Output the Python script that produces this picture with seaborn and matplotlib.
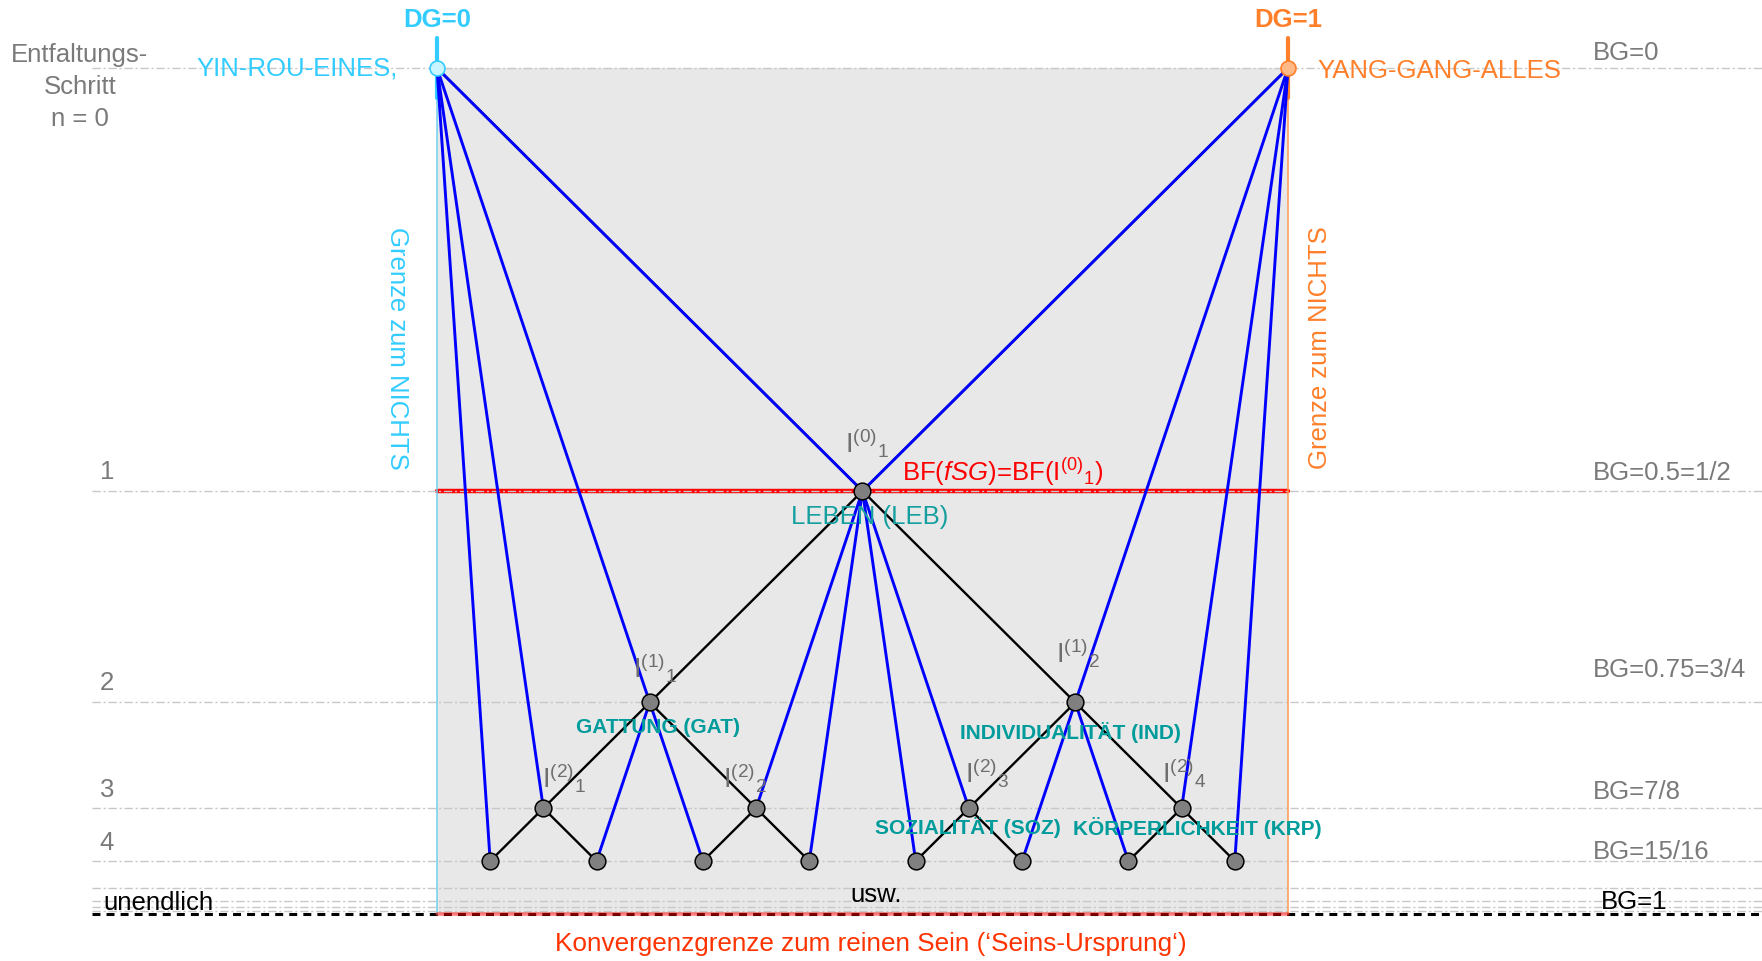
import numpy as np
import pandas as pd
import seaborn as sns
import matplotlib.pyplot as plt

# Knoten: DG (horizontal) und BG (vertikal)
node_names = ['YIN', 'YANG', 'I0_1', 'I1_1', 'I1_2', 'I2_1', 'I2_2', 'I2_3', 'I2_4',
              'L4_1', 'L4_2', 'L4_3', 'L4_4', 'L4_5', 'L4_6', 'L4_7', 'L4_8']
node_dg = [0.0, 1.0, 0.5, 0.25, 0.75, 0.125, 0.375, 0.625, 0.875,
           0.0625, 0.1875, 0.3125, 0.4375, 0.5625, 0.6875, 0.8125, 0.9375]
node_bg = [0.0, 0.0, 0.5, 0.75, 0.75, 0.875, 0.875, 0.875, 0.875,
           0.9375, 0.9375, 0.9375, 0.9375, 0.9375, 0.9375, 0.9375, 0.9375]

# Baum (schwarz) und Verbindungen (blau)
tree_edges = [('YIN', 'I0_1'), ('YANG', 'I0_1'),
              ('I0_1', 'I1_1'), ('I0_1', 'I1_2'),
              ('I1_1', 'I2_1'), ('I1_1', 'I2_2'), ('I1_2', 'I2_3'), ('I1_2', 'I2_4'),
              ('I2_1', 'L4_1'), ('I2_1', 'L4_2'), ('I2_2', 'L4_3'), ('I2_2', 'L4_4'),
              ('I2_3', 'L4_5'), ('I2_3', 'L4_6'), ('I2_4', 'L4_7'), ('I2_4', 'L4_8')]
blue_edges = [('YIN', 'L4_1'), ('YIN', 'I2_1'), ('YIN', 'I1_1'), ('YIN', 'I0_1'),
              ('YANG', 'L4_8'), ('YANG', 'I2_4'), ('YANG', 'I1_2'), ('YANG', 'I0_1'),
              ('I0_1', 'I2_2'), ('I0_1', 'L4_4'), ('I0_1', 'L4_5'), ('I0_1', 'I2_3'),
              ('I1_1', 'L4_2'), ('I1_1', 'L4_3'), ('I1_2', 'L4_6'), ('I1_2', 'L4_7')]

grid_bg = [0, 0.5, 0.75, 0.875, 0.9375, 0.96875, 0.984375, 0.9921875, 0.99609375]
step_labels = ['1', '2', '3', '4']
bg_labels = ['BG=0', 'BG=0.5=1/2', 'BG=0.75=3/4', 'BG=7/8', 'BG=15/16', 'BG=1']
i_labels = ['$I^{(0)}{}_1$', '$I^{(1)}{}_1$', '$I^{(1)}{}_2$',
            '$I^{(2)}{}_1$', '$I^{(2)}{}_2$', '$I^{(2)}{}_3$', '$I^{(2)}{}_4$']

sns.set_style('white')
plt.rcParams['font.family'] = ['Liberation Sans', 'DejaVu Sans']
plt.rcParams['mathtext.fontset'] = 'custom'
plt.rcParams['mathtext.rm'] = 'Liberation Sans'
plt.rcParams['mathtext.it'] = 'Liberation Sans:italic'
plt.rcParams['mathtext.default'] = 'regular'

nodes = pd.DataFrame({'name': node_names, 'DG': node_dg, 'BG': node_bg}).set_index('name')


def edge_frame(edges):
    rows = []
    for k, (a, b) in enumerate(edges):
        rows.append({'seg': k, 'DG': nodes.loc[a, 'DG'], 'BG': nodes.loc[a, 'BG']})
        rows.append({'seg': k, 'DG': nodes.loc[b, 'DG'], 'BG': nodes.loc[b, 'BG']})
    return pd.DataFrame(rows)


fig = plt.figure(figsize=(17.62, 9.61), dpi=100)
ax = fig.add_axes([0, 0, 1, 1])

FS = 18.5
CYAN = '#33ccff'
ORANGE = '#ff7f2a'
GRAY = '#7a7a7a'
TEAL = '#009b9b'
XL = -0.405

# Hintergrund und Grenzen
ax.fill_between([0, 1], 0, 1, color='#e8e8e8', zorder=0, lw=0)
ax.plot([0, 1], [0.5, 0.5], color='red', lw=3.2, zorder=1)
for g in grid_bg:
    ax.plot([XL, 1.6], [g, g], color='#c8c8c8', lw=1, ls=(0, (6, 2, 1.5, 2)), zorder=2)
ax.plot([XL, 1.6], [1, 1], color='black', lw=2.2, ls=(0, (2.6, 2)), zorder=2)
ax.plot([0, 1], [1, 1], color='red', lw=2.6, alpha=0.5, zorder=3)
ax.plot([0, 0], [0, 1], color='#6fd0f0', lw=1.1, zorder=2)
ax.plot([1, 1], [0, 1], color='#ff9a50', lw=1.1, zorder=2)
ax.plot([0, 0], [-0.0355, 0.0355], color=CYAN, lw=3, zorder=3)
ax.plot([1, 1], [-0.0355, 0.0355], color=ORANGE, lw=3, zorder=3)

# Linien
sns.lineplot(data=edge_frame(tree_edges), x='DG', y='BG', units='seg', estimator=None,
             sort=False, color='black', lw=1.7, ax=ax, zorder=4)
sns.lineplot(data=edge_frame(blue_edges), x='DG', y='BG', units='seg', estimator=None,
             sort=False, color='#0000ff', lw=2.1, ax=ax, zorder=5)

# Knoten
inner = nodes.drop(['YIN', 'YANG']).reset_index()
sns.scatterplot(data=inner, x='DG', y='BG', s=145, color='#808080', edgecolor='black',
                linewidth=1.1, ax=ax, zorder=6)
ax.scatter([nodes.loc['YIN', 'DG']], [nodes.loc['YIN', 'BG']], s=115, color='#c8f4ff',
           edgecolor=CYAN, lw=1.2, zorder=6)
ax.scatter([nodes.loc['YANG', 'DG']], [nodes.loc['YANG', 'BG']], s=115, color='#ffb888',
           edgecolor=ORANGE, lw=1.2, zorder=6)

# Texte oben
ax.text(0, -0.057, 'DG=0', color=CYAN, fontsize=FS, fontweight='bold', ha='center', va='center')
ax.text(1, -0.057, 'DG=1', color=ORANGE, fontsize=FS, fontweight='bold', ha='center', va='center')
ax.text(-0.046, 0.0, 'YIN-ROU-EINES,', color=CYAN, fontsize=FS, ha='right', va='center')
ax.text(1.035, 0.003, 'YANG-GANG-ALLES', color=ORANGE, fontsize=FS, ha='left', va='center')
ax.text(-0.4195, 0.022, 'Entfaltungs-\nSchritt\nn = 0', color=GRAY, fontsize=FS,
        ha='center', va='center', linespacing=1.42)
ax.text(-0.047, 0.331, 'Grenze zum NICHTS', color=CYAN, fontsize=FS, rotation=-90,
        ha='center', va='center')
ax.text(1.0376, 0.331, 'Grenze zum NICHTS', color=ORANGE, fontsize=FS, rotation=90,
        ha='center', va='center')

# Stufen links, BG rechts
step_y = [0.4775, 0.727, 0.853, 0.916]
for lab, yy in zip(step_labels, step_y):
    ax.text(-0.3878, yy, lab, color=GRAY, fontsize=FS, ha='center', va='center')
bg_y = [-0.018, 0.479, 0.712, 0.856, 0.927, 0.986]
for lab, yy in zip(bg_labels, bg_y):
    col = 'black' if lab == 'BG=1' else GRAY
    xx = 1.368 if lab == 'BG=1' else 1.358
    ax.text(xx, yy, lab, color=col, fontsize=FS, ha='left', va='center')
ax.text(-0.392, 0.987, 'unendlich', color='black', fontsize=FS, ha='left', va='center')
ax.text(0.516, 0.9775, 'usw.', color='black', fontsize=FS, ha='center', va='center')
ax.text(0.51, 1.035, 'Konvergenzgrenze zum reinen Sein (‘Seins-Ursprung‘)', color='#ff3300',
        fontsize=18.8, ha='center', va='center')

# Knotenbeschriftungen
i_pos = [(0.479, 0.454), (0.230, 0.721), (0.727, 0.703),
         (0.123, 0.850), (0.336, 0.850), (0.620, 0.845), (0.852, 0.845)]
for lab, (xx, yy) in zip(i_labels, i_pos):
    ax.text(xx, yy, lab, color='#6e6e6e', fontsize=FS + 1, ha='left', va='baseline', zorder=7)
ax.text(0.546, 0.4775, r'BF($\mathit{fSG}$)=BF($I^{(0)}{}_1$)', color='red', fontsize=FS,
        ha='left', va='center', zorder=7)
ax.text(0.509, 0.531, 'LEBEN (LEB)', color='#159f9f', fontsize=FS, ha='center', va='center', zorder=7)
ax.text(0.26, 0.779, 'GATTUNG (GAT)', color=TEAL, fontsize=15, fontweight='bold',
        ha='center', va='center', zorder=7)
ax.text(0.744, 0.785, 'INDIVIDUALITÄT (IND)', color=TEAL, fontsize=15, fontweight='bold',
        ha='center', va='center', zorder=7)
ax.text(0.624, 0.898, 'SOZIALITÄT (SOZ)', color=TEAL, fontsize=15, fontweight='bold',
        ha='center', va='center', zorder=7)
ax.text(0.894, 0.898, 'KÖRPERLICHKEIT (KRP)', color=TEAL, fontsize=15, fontweight='bold',
        ha='center', va='center', zorder=7)

ax.set_xlim(-0.5135, 1.557)
ax.set_ylim(1.0556, -0.0804)
ax.axis('off')
fig.savefig('out.png', dpi=100)
